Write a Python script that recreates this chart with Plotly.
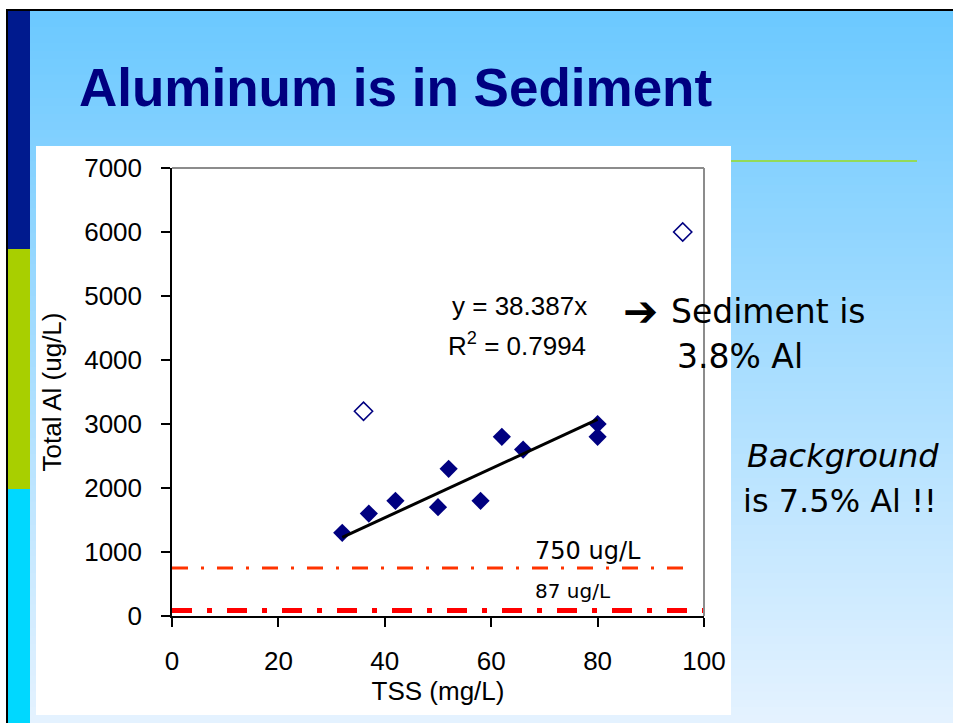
import plotly.graph_objects as go

# ---------------- data ----------------
tss_included = [32, 37, 42, 50, 52, 58, 62, 66, 80, 80]
al_included = [1300, 1600, 1800, 1700, 2300, 1800, 2800, 2600, 3000, 2800]
tss_excluded = [36, 96]
al_excluded = [3200, 6000]
trend_slope = 38.387
trend_r2 = 0.7994
trend_x_range = [32, 80]
limit_750 = 750
limit_750_x = [0, 97]
limit_87 = 87
limit_87_x = [0, 100]
x_ticks = [0, 20, 40, 60, 80, 100]
y_ticks = [0, 1000, 2000, 3000, 4000, 5000, 6000, 7000]

# ---------------- geometry (pixels) ----------------
W, H = 953, 723
L, R, T, B = 172, 704, 168, 616  # plot area in px


def px(xp):
    return (xp - L) / (R - L)


def py(yp):
    return (B - yp) / (B - T)


ARIAL = "Liberation Sans, Arial, sans-serif"
TAHOMA = "DejaVu Sans, Verdana, sans-serif"
NAVY = "#000080"

fig = go.Figure()

# threshold lines
fig.add_trace(go.Scatter(
    x=limit_750_x, y=[limit_750] * len(limit_750_x), mode="lines",
    line=dict(color="#FF3300", width=3, dash="16px,13px,3px,13px"),
    hoverinfo="skip", showlegend=False))
fig.add_trace(go.Scatter(
    x=limit_87_x, y=[limit_87] * len(limit_87_x), mode="lines",
    line=dict(color="#FF0000", width=5, dash="20px,15px,5px,15px"),
    hoverinfo="skip", showlegend=False))

# data points
fig.add_trace(go.Scatter(
    x=tss_included, y=al_included, mode="markers",
    marker=dict(symbol="diamond", size=14, color=NAVY, line=dict(width=0)),
    showlegend=False))
fig.add_trace(go.Scatter(
    x=tss_excluded, y=al_excluded, mode="markers",
    marker=dict(symbol="diamond-open", size=14, color=NAVY, line=dict(width=1.6, color=NAVY)),
    showlegend=False))

# trend line
fig.add_trace(go.Scatter(
    x=trend_x_range, y=[trend_slope * v for v in trend_x_range], mode="lines",
    line=dict(color="black", width=3), showlegend=False))

# ---------------- slide background shapes ----------------
shapes = []
top_c = (0x6C, 0xC9, 0xFF)
bot_c = (0xE4, 0xF2, 0xFF)
n_bands = 90
y0p, y1p = 11, H
for i in range(n_bands):
    f = i / (n_bands - 1)
    c = tuple(round(top_c[k] + (bot_c[k] - top_c[k]) * f) for k in range(3))
    ya = y0p + (y1p - y0p) * i / n_bands
    yb = y0p + (y1p - y0p) * (i + 1) / n_bands + 1
    shapes.append(dict(type="rect", xref="paper", yref="paper", layer="below",
                       x0=px(8), x1=px(W), y0=py(yb), y1=py(ya),
                       fillcolor="rgb(%d,%d,%d)" % c, line=dict(width=0)))

# black frame lines
shapes.append(dict(type="rect", xref="paper", yref="paper", layer="below",
                   x0=px(6), x1=px(W), y0=py(11), y1=py(9),
                   fillcolor="black", line=dict(width=0)))
shapes.append(dict(type="rect", xref="paper", yref="paper", layer="below",
                   x0=px(6), x1=px(8), y0=py(H), y1=py(9),
                   fillcolor="black", line=dict(width=0)))
# left coloured stripes
for ya, yb, col in [(11, 249, "#001A8E"), (249, 489, "#A8CF00"), (489, H, "#00D8FF")]:
    shapes.append(dict(type="rect", xref="paper", yref="paper", layer="below",
                       x0=px(8), x1=px(30), y0=py(yb), y1=py(ya),
                       fillcolor=col, line=dict(width=0)))
# white chart area
shapes.append(dict(type="rect", xref="paper", yref="paper", layer="below",
                   x0=px(36), x1=px(731), y0=py(715), y1=py(146),
                   fillcolor="white", line=dict(width=0)))
# green rule
shapes.append(dict(type="line", xref="paper", yref="paper", layer="below",
                   x0=px(731), x1=px(917), y0=py(161), y1=py(161),
                   line=dict(color="#99DD22", width=1.5)))
# gray top/right plot border
shapes.append(dict(type="line", xref="paper", yref="paper",
                   x0=0, x1=1, y0=1, y1=1, line=dict(color="#8C8C8C", width=2)))
shapes.append(dict(type="line", xref="paper", yref="paper",
                   x0=1, x1=1, y0=0, y1=1, line=dict(color="#8C8C8C", width=2)))

# ---------------- annotations ----------------
def ann(text, x, y, size, family, xanchor="left", yanchor="bottom", color="black", **kw):
    return dict(text=text, xref="paper", yref="paper", x=px(x), y=py(y),
                xanchor=xanchor, yanchor=yanchor, showarrow=False,
                borderpad=0, borderwidth=0,
                font=dict(size=size, family=family, color=color), **kw)


annotations = [
    ann("<b>Aluminum is in Sediment</b>", 79, 117, 53, ARIAL, color=NAVY),
    ann("y = %.3fx" % trend_slope, 587, 320.5, 26, ARIAL, xanchor="right"),
    ann("R<sup>2</sup> = %.4f" % trend_r2, 586, 360.5, 26, ARIAL, xanchor="right"),
    ann("<b>➔</b>", 640, 311, 42, TAHOMA, xanchor="center", yanchor="middle"),
    ann("Sediment is", 671, 331, 33, TAHOMA),
    ann("3.8% Al", 677, 376, 33, TAHOMA),
    ann("<i>Background</i>", 843, 475, 32, TAHOMA, xanchor="center"),
    ann("is 7.5% Al !!", 840, 520, 32, TAHOMA, xanchor="center"),
    ann("%d ug/L" % limit_750, 535, 564.7, 24, TAHOMA),
    ann("%d ug/L" % limit_87, 535, 602.7, 20, TAHOMA),
]

fig.update_layout(
    width=W, height=H,
    margin=dict(l=L, r=W - R, t=T, b=H - B, pad=0),
    paper_bgcolor="white", plot_bgcolor="white",
    showlegend=False,
    shapes=shapes, annotations=annotations,
    font=dict(family=ARIAL, color="black"),
)
fig.update_xaxes(
    range=[0, 100], tickvals=x_ticks, ticktext=[str(v) for v in x_ticks],
    showgrid=False, zeroline=False, showline=True, linecolor="black", linewidth=1.5,
    ticks="outside", ticklen=9, tickwidth=1.5, tickcolor="black",
    tickfont=dict(size=26, family=ARIAL, color="black"), ticklabelstandoff=12,
    title=dict(text="TSS (mg/L)", font=dict(size=26, family=ARIAL, color="black"), standoff=6),
)
fig.update_yaxes(
    range=[0, 7000], tickvals=y_ticks, ticktext=[str(v) for v in y_ticks],
    showgrid=False, zeroline=False, showline=True, linecolor="black", linewidth=1.5,
    ticks="outside", ticklen=9, tickwidth=1.5, tickcolor="black",
    tickfont=dict(size=26, family=ARIAL, color="black"), ticklabelstandoff=14,
    title=dict(text="Total Al (ug/L)", font=dict(size=26, family=ARIAL, color="black"), standoff=15),
)

fig.write_html("out.html", config={"displayModeBar": False},
               post_script="document.body.style.margin='0';document.body.style.overflow='hidden';")
